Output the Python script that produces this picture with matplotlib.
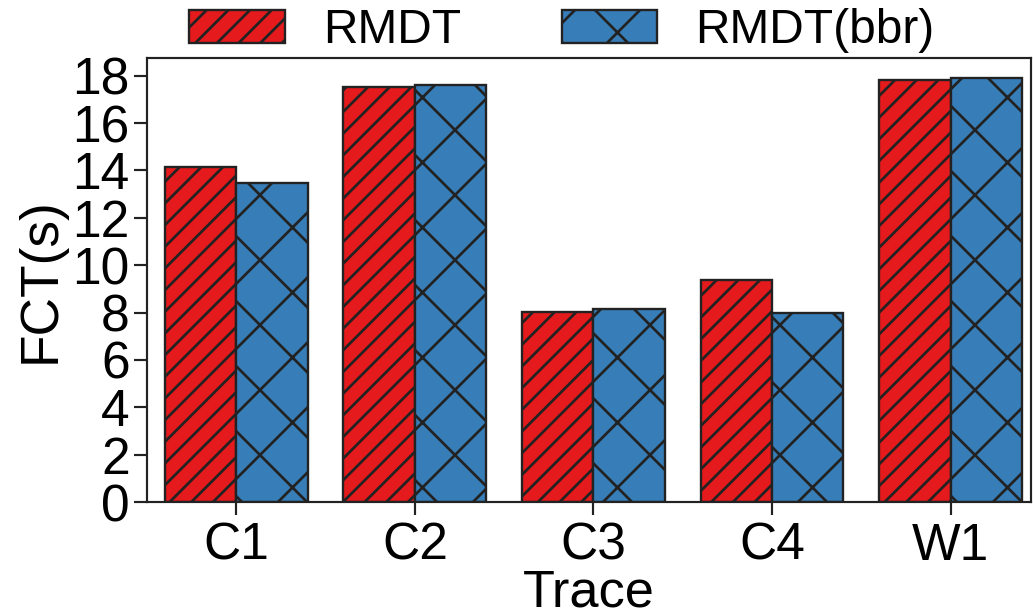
import matplotlib
matplotlib.use("Agg")
import matplotlib.pyplot as plt
import matplotlib.hatch as mhatch
import numpy as np

traces = ["C1", "C2", "C3", "C4", "W1"]
rmdt = [14.15, 17.52, 8.03, 9.36, 17.80]
rmdt_bbr = [13.48, 17.62, 8.15, 7.98, 17.90]

# the bbr bars use a coarser cross hatch than the default 'x'
_base_get_path = mhatch.get_path


def _get_path(pattern, density=6):
    if pattern == "x":
        density = 4
    return _base_get_path(pattern, density)


mhatch.get_path = _get_path

plt.rcParams["font.family"] = ["Liberation Sans", "DejaVu Sans"]
plt.rcParams["hatch.linewidth"] = 1.5

DPI = 130
fig, ax = plt.subplots(figsize=(1033 / DPI, 615 / DPI), dpi=DPI)
fig.subplots_adjust(left=147 / 1033, right=1031 / 1033,
                    bottom=1 - 502 / 615, top=1 - 58 / 615)

x = np.arange(len(traces))
w = 0.4
ax.bar(x - w / 2, rmdt, w, color="#E41A1C", edgecolor="#222222",
       hatch="//", linewidth=1.3, label="RMDT")
ax.bar(x + w / 2, rmdt_bbr, w, color="#377EB8", edgecolor="#222222",
       hatch="x", linewidth=1.3, label="RMDT(bbr)")

ax.set_xlim(-0.5, 4.45)
ax.set_ylim(0, 18.75)
ax.set_xticks(x)
ax.set_xticklabels(traces)
ax.set_yticks(np.arange(0, 19, 2))
ax.tick_params(labelsize=28.5, length=7, width=1.2, color="#222222")
ax.tick_params(axis="y", pad=2.5)
ax.tick_params(axis="x", pad=4)
for s in ax.spines.values():
    s.set_linewidth(1.2)
    s.set_color("#222222")

ax.set_xlabel("Trace", fontsize=29, labelpad=-1.5)
ax.set_ylabel("FCT(s)", fontsize=29.5, labelpad=4)

fig.legend(loc="center", bbox_to_anchor=(0.544, 0.95), ncol=2,
           frameon=False, fontsize=26.5, handlelength=2.0,
           handleheight=0.7, handletextpad=0.8, columnspacing=2.1)

fig.savefig("out.png", dpi=DPI)
